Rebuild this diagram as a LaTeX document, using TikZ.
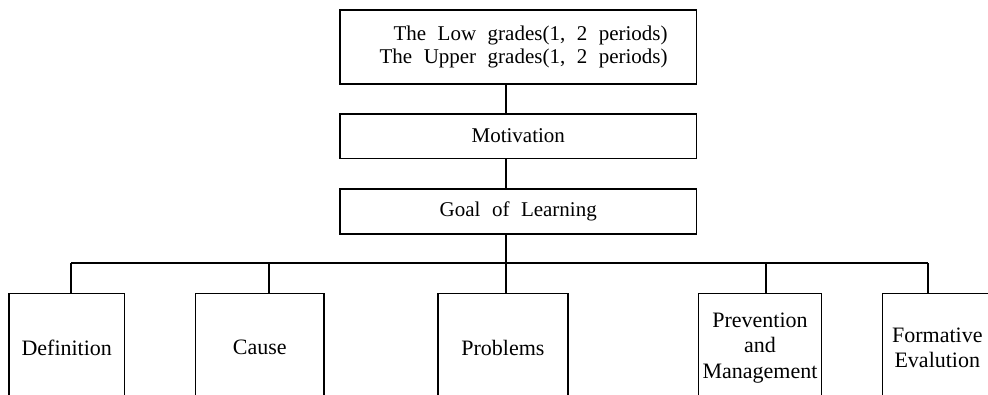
\documentclass[tikz,border=0pt]{standalone}
\usepackage{fontspec}
\setmainfont{Liberation Serif}
\newcommand\mywordsp{\spaceskip 11.5pt\relax}
\begin{document}
\begin{tikzpicture}[x=1pt,y=-1pt,line width=1.2pt,
  box/.style={draw,rectangle,inner sep=0pt,line width=1.2pt,anchor=north west,
    font={\fontsize{21}{23}\selectfont\mywordsp}},
  leaf/.style={draw,rectangle,inner sep=0pt,line width=1.2pt,anchor=north west,
    align=center,minimum height=108pt,font={\fontsize{22}{25.5}\selectfont}},
  link/.style={draw,line width=1.2pt}]
\useasboundingbox (0,0) rectangle (988,394);
\clip (0,0) rectangle (988,394);
% upper chain
\node[box,inner xsep=29pt,text width=298.7pt,minimum height=74pt,align=right] (grades) at (339.3,9.3)
  {\mywordsp The Low grades(1, 2 periods)\\\mywordsp The Upper grades(1, 2 periods)};
\node[box,minimum width=356.7pt,minimum height=44.4pt] (mot) at (339.3,113.3) {Motivation};
\node[box,minimum width=356.7pt,minimum height=45pt] (goal) at (339.3,188.3) {Goal of Learning};
% leaves
\node[leaf,minimum width=115.7pt] (def) at (8.3,293) {Definition};
\node[leaf,minimum width=128.3pt] (cause) at (195,293) {Cause};
\node[leaf,minimum width=130pt] (prob) at (437.3,293) {Problems};
\node[leaf,minimum width=123.3pt] (prev) at (697.7,293) {Prevention\\and\\Management};
\node[leaf,minimum width=110pt] (form) at (881.7,293) {Formative\\Evalution};
% bus coordinates
\coordinate (trunk) at (506,263);
\coordinate (d1) at (71,263);
\coordinate (d2) at (269,263);
\coordinate (d4) at (766,263);
\coordinate (d5) at (928,263);
% connectors
\draw[link] (trunk |- grades.south) -- (trunk |- mot.north);
\draw[link] (trunk |- mot.south) -- (trunk |- goal.north);
\draw[link] (trunk |- goal.south) -- (trunk);
\draw[link] (d1) -- (d5);
\draw[link] (d1) -- (d1 |- def.north);
\draw[link] (d2) -- (d2 |- cause.north);
\draw[link] (trunk) -- (trunk |- prob.north);
\draw[link] (d4) -- (d4 |- prev.north);
\draw[link] (d5) -- (d5 |- form.north);
\end{tikzpicture}
\end{document}
